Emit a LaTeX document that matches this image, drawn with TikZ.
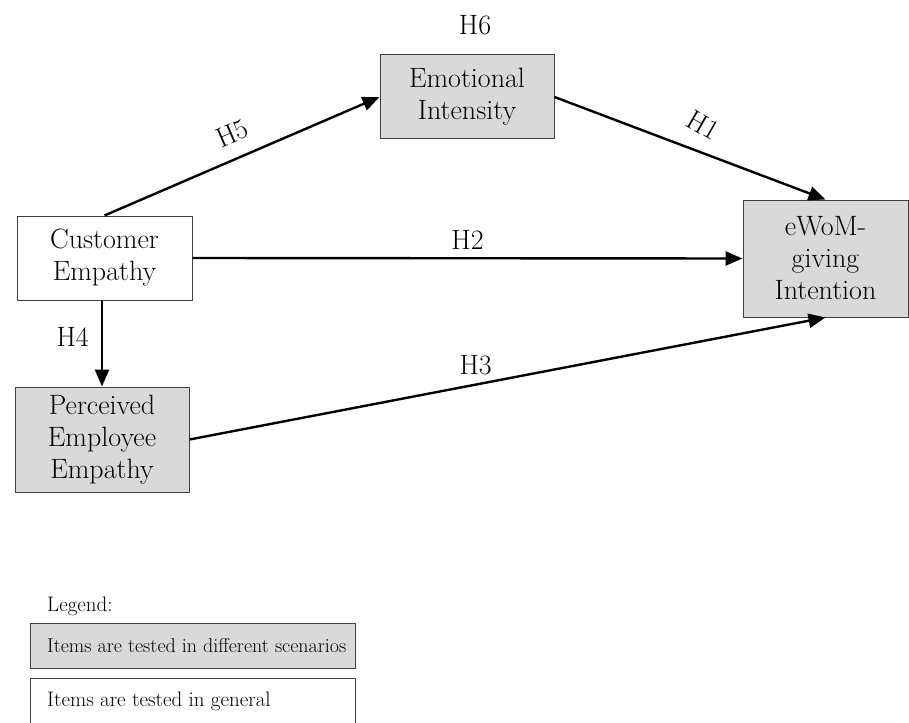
\documentclass[tikz,border=0pt]{standalone}
\usetikzlibrary{arrows.meta}
\begin{document}
\begin{tikzpicture}[x=1pt,y=-1pt,
  box/.style={draw=black!75,line width=1pt,align=center,inner sep=0pt,
    font=\fontsize{28}{32}\selectfont},
  grey/.style={box,fill=black!15},
  conn/.style={line width=2.4pt,-{Triangle[length=17pt,width=14pt]}},
  hlab/.style={font=\fontsize{28}{30}\selectfont,inner sep=0pt},
  legbox/.style={draw=black!75,line width=1pt,fill=#1,anchor=north west,
    minimum height=45pt,minimum width=325pt,inner sep=0pt},
  legtext/.style={anchor=west,inner sep=0pt,font=\fontsize{20}{24}\selectfont}]
\useasboundingbox (0,0) rectangle (909,722);
\node[box,minimum width=175pt,minimum height=84pt] (ce) at (104.5,258) {Customer\\Empathy};
\node[grey,minimum width=174pt,minimum height=105pt] (pe) at (102,439.5) {Perceived\\Employee\\Empathy};
\node[grey,minimum width=174pt,minimum height=84pt] (ei) at (467,97) {Emotional\\Intensity};
\node[grey,minimum width=165pt,minimum height=117pt] (ew) at (825.5,258.5) {eWoM-\\giving\\Intention};
\node[hlab] (h6) at (475,25) {H6};
\draw[conn] (ce.north) -- node[hlab,sloped,above=14pt] (h5) {H5} (ei.west);
\draw[conn] (ei.east) -- node[hlab,rotate=-30,above=16pt,pos=0.5] (h1) {H1} (ew.north);
\draw[conn] (ce.east) -- node[hlab,above=8pt] (h2) {H2} (ew.west);
\draw[conn] (pe.east) -- node[hlab,above=8pt,pos=0.45] (h3) {H3} (ew.south);
\draw[conn] (ce.south -| pe.north) -- node[hlab,left=12pt,pos=0.42] (h4) {H4} (pe.north);
\node[legtext,font=\fontsize{21}{24}\selectfont] (lg) at (47,606) {Legend:};
\node[legbox=black!15] (l1) at (30,623) {};
\node[legtext] (t1) at (47,646) {Items are tested in different scenarios};
\node[legbox=white,minimum height=55pt] (l2) at (30,678) {};
\node[legtext,font=\fontsize{21}{24}\selectfont] (t2) at (47,701) {Items are tested in general};
\end{tikzpicture}
\end{document}
